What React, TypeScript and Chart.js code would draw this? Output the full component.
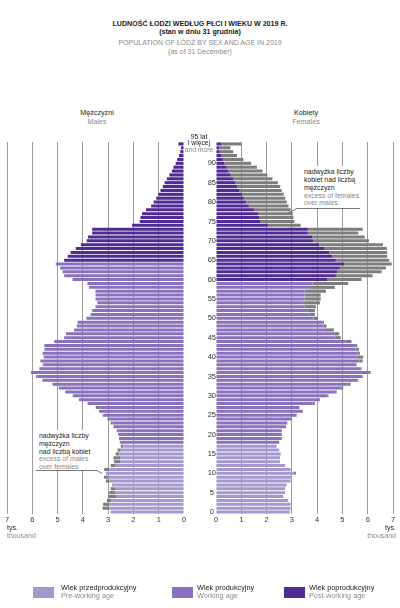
import React, { useEffect, useRef } from "react";
import { Chart, registerables } from "chart.js";
Chart.register(...registerables);

const FONT = '"Liberation Sans", Arial, Helvetica, sans-serif';

// Age categories 0..95 (95 = "95 lat i więcej")
const AGES = [
  0, 1, 2, 3, 4, 5, 6, 7, 8, 9, 10, 11, 12, 13, 14, 15, 16, 17, 18, 19,
  20, 21, 22, 23, 24, 25, 26, 27, 28, 29, 30, 31, 32, 33, 34, 35, 36, 37, 38, 39,
  40, 41, 42, 43, 44, 45, 46, 47, 48, 49, 50, 51, 52, 53, 54, 55, 56, 57, 58, 59,
  60, 61, 62, 63, 64, 65, 66, 67, 68, 69, 70, 71, 72, 73, 74, 75, 76, 77, 78, 79,
  80, 81, 82, 83, 84, 85, 86, 87, 88, 89, 90, 91, 92, 93, 94, 95,
];

// Males, thousands, by age 0..95
const MALES = [
  2.9, 3.22, 3.2, 3.05, 3.0, 2.96, 2.9, 2.84, 3.09, 3.16,
  3.09, 3.16, 2.9, 2.77, 2.79, 2.7, 2.63, 2.5, 2.54, 2.57,
  2.61, 2.66, 2.79, 2.9, 3.03, 3.22, 3.36, 3.49, 3.81, 4.15,
  4.4, 4.7, 4.95, 5.2, 5.6, 5.85, 6.05, 5.72, 5.59, 5.68,
  5.55, 5.59, 5.52, 5.52, 5.13, 4.74, 4.67, 4.35, 4.24, 4.21,
  3.86, 3.69, 3.63, 3.5, 3.43, 3.5, 3.5, 3.5, 3.76, 3.82,
  4.41, 4.74, 4.8, 4.9, 5.07, 4.74, 4.6, 4.48, 4.28, 4.08,
  3.85, 3.8, 3.63, 3.63, 2.05, 1.75, 1.72, 1.66, 1.5, 1.3,
  1.2, 1.1, 1.02, 0.93, 0.84, 0.77, 0.68, 0.58, 0.48, 0.42,
  0.33, 0.27, 0.2, 0.15, 0.12, 0.22,
];

// Females, thousands, by age 0..95
const FEMALES = [
  2.92, 2.95, 2.95, 2.86, 2.66, 2.73, 2.73, 2.79, 2.95, 2.99,
  3.16, 2.95, 2.73, 2.53, 2.53, 2.56, 2.5, 2.4, 2.5, 2.6,
  2.6, 2.6, 2.77, 2.82, 2.99, 3.19, 3.43, 3.3, 3.91, 4.11,
  4.45, 4.77, 5.03, 5.32, 5.63, 5.8, 6.11, 5.76, 5.56, 5.8,
  5.82, 5.69, 5.65, 5.59, 5.36, 4.93, 4.87, 4.66, 4.37, 4.27,
  4.04, 3.91, 3.91, 3.95, 4.11, 4.14, 4.14, 4.35, 4.7, 5.23,
  5.76, 6.19, 6.55, 6.72, 6.95, 6.85, 6.77, 6.77, 6.76, 6.6,
  6.05, 5.88, 5.63, 5.8, 3.35, 3.1, 3.06, 3.04, 2.95, 2.87,
  2.8, 2.74, 2.68, 2.6, 2.54, 2.45, 2.23, 2.03, 1.84, 1.62,
  1.39, 1.08, 0.83, 0.68, 0.57, 1.0,
];

const X_TICKS = [0, 1, 2, 3, 4, 5, 6, 7];
const CENTER_LABEL_AGES = [0, 5, 10, 15, 20, 25, 30, 35, 40, 45, 50, 55, 60, 65, 70, 75, 80, 85, 90];

const WORK_START = 18;
const MALE_POST_START = 65;
const FEMALE_POST_START = 60;

const C_PRE = "#a697cf";
const C_WORK = "#8a71bd";
const C_POST = "#4f2b93";
const C_EXCESS = "#7d7d7d";
const GRID = "#9c9c9c";

function groupColor(age: number, postStart: number) {
  if (age < WORK_START) return C_PRE;
  if (age < postStart) return C_WORK;
  return C_POST;
}

function makeOptions(side: "left" | "right"): any {
  const yAxis: any = {
    type: "category",
    stacked: true,
    reverse: true,
    display: side === "right",
    position: "left",
    ticks: {
      autoSkip: false,
      crossAlign: "center",
      padding: 0,
      color: "#333",
      font: { family: FONT, size: 7.5 },
      callback: function (this: any, value: any, index: number) {
        const age = AGES[index];
        return CENTER_LABEL_AGES.includes(age) ? String(age) : "";
      },
    },
    grid: { display: false, drawTicks: false },
    border: { display: false },
  };
  if (side === "right") {
    yAxis.afterFit = (scale: any) => {
      scale.width = 32;
    };
  }
  return {
    indexAxis: "y",
    responsive: false,
    animation: false,
    devicePixelRatio: 1,
    layout: {
      padding: side === "left" ? { left: 7, right: 8, top: 5, bottom: 0 } : { left: 0, right: 7, top: 5, bottom: 0 },
    },
    plugins: { legend: { display: false }, tooltip: { enabled: false }, title: { display: false } },
    scales: {
      x: {
        stacked: true,
        reverse: side === "left",
        min: 0,
        max: 7,
        afterBuildTicks: (scale: any) => {
          scale.ticks = X_TICKS.map((v) => ({ value: v }));
        },
        ticks: {
          color: "#333",
          font: { family: FONT, size: 7.5 },
          padding: 1,
          maxRotation: 0,
        },
        grid: {
          drawTicks: false,
          color: (ctx: any) => (ctx.tick && ctx.tick.value === 0 ? "rgba(0,0,0,0)" : GRID),
          lineWidth: 1,
        },
        border: { display: false },
      },
      y: yAxis,
    },
  };
}

function T({ x, y, children, size = 7, color = "#222", bold = false, align = "center" }: any) {
  const transform =
    align === "center" ? "translate(-50%,-50%)" : align === "right" ? "translate(-100%,-50%)" : "translate(0,-50%)";
  return (
    <div
      style={{
        position: "absolute",
        left: x,
        top: y,
        transform,
        fontSize: size,
        fontWeight: bold ? 700 : 400,
        color,
        whiteSpace: "nowrap",
        lineHeight: 1,
        fontFamily: FONT,
      }}
    >
      {children}
    </div>
  );
}

export default function App() {
  const leftRef = useRef<HTMLCanvasElement>(null);
  const rightRef = useRef<HTMLCanvasElement>(null);

  useEffect(() => {
    document.body.style.margin = "0";
    const labels = AGES.map(String);
    const minVals = AGES.map((a) => Math.min(MALES[a], FEMALES[a]));
    const maleExcess = AGES.map((a) => Math.max(MALES[a] - FEMALES[a], 0));
    const femaleExcess = AGES.map((a) => Math.max(FEMALES[a] - MALES[a], 0));
    const barCommon = { barPercentage: 0.8, categoryPercentage: 1, borderWidth: 0 };

    const left = new Chart(leftRef.current as HTMLCanvasElement, {
      type: "bar",
      data: {
        labels,
        datasets: [
          { label: "Mężczyźni", data: minVals, backgroundColor: AGES.map((a) => groupColor(a, MALE_POST_START)), ...barCommon },
          { label: "nadwyżka mężczyzn", data: maleExcess, backgroundColor: C_EXCESS, ...barCommon },
        ],
      },
      options: makeOptions("left"),
    });
    const right = new Chart(rightRef.current as HTMLCanvasElement, {
      type: "bar",
      data: {
        labels,
        datasets: [
          { label: "Kobiety", data: minVals, backgroundColor: AGES.map((a) => groupColor(a, FEMALE_POST_START)), ...barCommon },
          { label: "nadwyżka kobiet", data: femaleExcess, backgroundColor: C_EXCESS, ...barCommon },
        ],
      },
      options: makeOptions("right"),
    });
    return () => {
      left.destroy();
      right.destroy();
    };
  }, []);

  const grey = "#8a8a8a";
  const dark = "#222";

  return (
    <div style={{ position: "relative", width: 400, height: 608, background: "#fff", overflow: "hidden", fontFamily: FONT }}>
      {/* Title */}
      <T x={200} y={25} bold size={7.1} color={dark}>LUDNOŚĆ ŁODZI WEDŁUG PŁCI I WIEKU W 2019 R.</T>
      <T x={200} y={33} bold size={7.1} color={dark}>(stan w dniu 31 grudnia)</T>
      <T x={200} y={42} size={7} color={grey}>POPULATION OF ŁÓDŹ BY SEX AND AGE IN 2019</T>
      <T x={200} y={51} size={7} color={grey}>(as of 31 December)</T>

      {/* Side headers */}
      <T x={97} y={113} size={7.2} color={dark}>Mężczyźni</T>
      <T x={97} y={121.5} size={7.2} color={grey}>Males</T>
      <T x={306} y={113} size={7.2} color={dark}>Kobiety</T>
      <T x={306} y={121.5} size={7.2} color={grey}>Females</T>

      <canvas ref={leftRef} width={192} height={388} style={{ position: "absolute", left: 0, top: 137 }} />
      <canvas ref={rightRef} width={216} height={388} style={{ position: "absolute", left: 184, top: 137 }} />

      {/* 95+ label */}
      <T x={199} y={136.5} size={6.8} color={dark}>95 lat</T>
      <T x={199} y={143} size={6.8} color={dark}>i więcej</T>
      <T x={199} y={150} size={6.8} color={grey}>and more</T>

      {/* white boxes behind annotations */}
      <div style={{ position: "absolute", left: 299, top: 166, width: 64, height: 42, background: "#fff" }} />
      <div style={{ position: "absolute", left: 33, top: 430, width: 66, height: 40, background: "#fff" }} />

      {/* Right annotation */}
      <T x={304} y={172} size={6.9} color={dark} align="left">nadwyżka liczby</T>
      <T x={304} y={180} size={6.9} color={dark} align="left">kobiet nad liczbą</T>
      <T x={304} y={187.5} size={6.9} color={dark} align="left">mężczyzn</T>
      <T x={304} y={195.5} size={6.9} color={grey} align="left">excess of females</T>
      <T x={304} y={203} size={6.9} color={grey} align="left">over males</T>

      {/* Left annotation */}
      <T x={39} y={436} size={6.9} color={dark} align="left">nadwyżka liczby</T>
      <T x={39} y={443.5} size={6.9} color={dark} align="left">mężczyzn</T>
      <T x={39} y={451.5} size={6.9} color={dark} align="left">nad liczbą kobiet</T>
      <T x={39} y={459} size={6.9} color={grey} align="left">excess of males</T>
      <T x={39} y={466.5} size={6.9} color={grey} align="left">over females</T>

      <svg width={400} height={608} style={{ position: "absolute", left: 0, top: 0, pointerEvents: "none" }}>
        <polyline points="360,208.5 297,208.5 288,213" fill="none" stroke="#555" strokeWidth={0.8} />
        <polyline points="36,470.5 97,470.5 102,473.5" fill="none" stroke="#555" strokeWidth={0.8} />
      </svg>

      {/* Axis unit labels */}
      <T x={7} y={527} size={7} color={dark} align="left">tys.</T>
      <T x={7} y={535} size={7} color={grey} align="left">thousand</T>
      <T x={396} y={527} size={7} color={dark} align="right">tys.</T>
      <T x={396} y={535} size={7} color={grey} align="right">thousand</T>

      {/* Legend */}
      <div style={{ position: "absolute", left: 33, top: 587, width: 21, height: 10.5, background: C_PRE }} />
      <T x={61} y={587.5} size={7.3} color={dark} align="left">Wiek przedprodukcyjny</T>
      <T x={61} y={595.5} size={7.3} color={grey} align="left">Pre-working age</T>
      <div style={{ position: "absolute", left: 172, top: 587, width: 21, height: 10.5, background: C_WORK }} />
      <T x={197} y={587.5} size={7.3} color={dark} align="left">Wiek produkcyjny</T>
      <T x={197} y={595.5} size={7.3} color={grey} align="left">Working age</T>
      <div style={{ position: "absolute", left: 284, top: 587, width: 21, height: 10.5, background: C_POST }} />
      <T x={309} y={587.5} size={7.3} color={dark} align="left">Wiek poprodukcyjny</T>
      <T x={309} y={595.5} size={7.3} color={grey} align="left">Post-working age</T>
    </div>
  );
}
